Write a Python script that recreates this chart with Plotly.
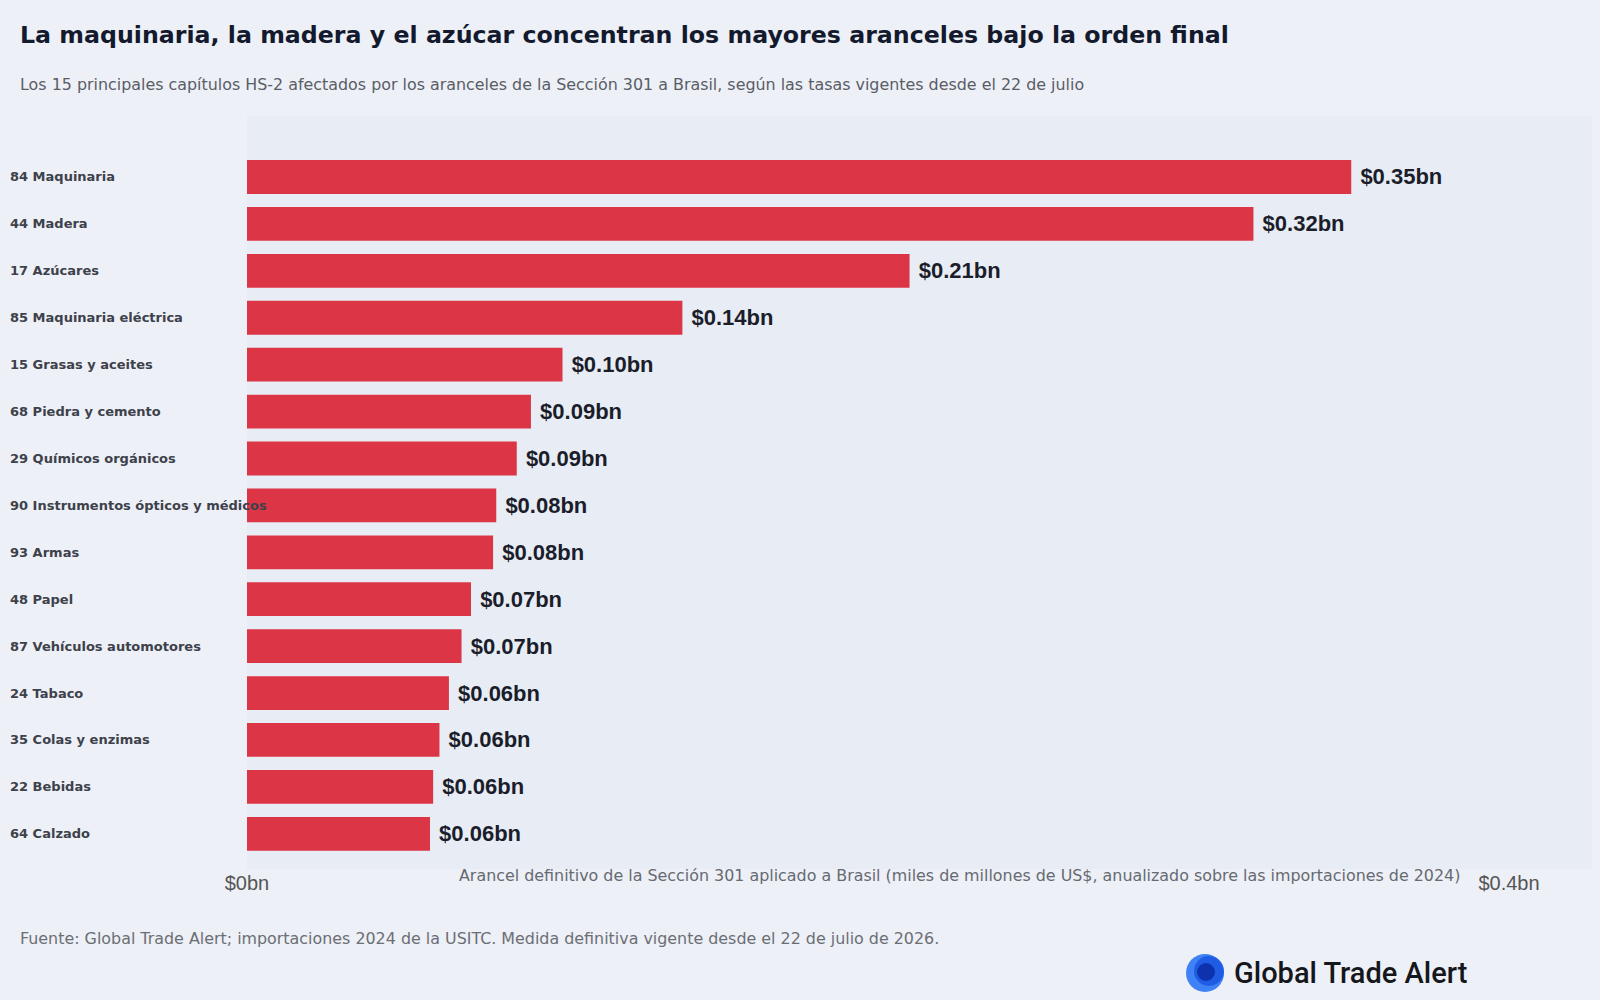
import plotly.graph_objects as go

# ---- data ----
categories = [
    "84 Maquinaria", "44 Madera", "17 Azúcares", "85 Maquinaria eléctrica",
    "15 Grasas y aceites", "68 Piedra y cemento", "29 Químicos orgánicos",
    "90 Instrumentos ópticos y médicos", "93 Armas", "48 Papel",
    "87 Vehículos automotores", "24 Tabaco", "35 Colas y enzimas",
    "22 Bebidas", "64 Calzado",
]
values = [0.350, 0.319, 0.210, 0.138, 0.100, 0.090, 0.0855, 0.079,
          0.078, 0.071, 0.068, 0.064, 0.061, 0.059, 0.058]
tick_vals = [0.0, 0.4]
tick_text = ["$0bn", "$0.4bn"]

title = "La maquinaria, la madera y el azúcar concentran los mayores aranceles bajo la orden final"
subtitle = ("Los 15 principales capítulos HS-2 afectados por los aranceles de la Sección 301 a Brasil, "
            "según las tasas vigentes desde el 22 de julio")
x_title = ("Arancel definitivo de la Sección 301 aplicado a Brasil (miles de millones de US$, "
           "anualizado sobre las importaciones de 2024)")
source = ("Fuente: Global Trade Alert; importaciones 2024 de la USITC. "
          "Medida definitiva vigente desde el 22 de julio de 2026.")

# ---- geometry ----
W, H = 1600, 1000
ML, MR, MT, MB = 247, 8, 116, 131
PW, PH = W - ML - MR, H - MT - MB
PX_PER_UNIT = 3155


def px(x):
    return (x - ML) / PW


def py(y):
    return (H - MB - y) / PH


fig = go.Figure()
fig.add_trace(go.Bar(
    x=values, y=categories, orientation="h",
    marker=dict(color="#dc3545", line=dict(width=0)),
    width=0.72,
    texttemplate=" <b>$%{x:.2f}bn</b>", textposition="outside",
    textfont=dict(family="Liberation Sans, Arial, sans-serif", size=22, color="#1b1d2b"),
    cliponaxis=False, hoverinfo="skip",
))

annotations = []
# category labels (left aligned)
for c in categories:
    annotations.append(dict(
        x=px(8), xref="paper", y=c, yref="y", text="<b>%s</b>" % c,
        showarrow=False, xanchor="left", yanchor="middle",
        font=dict(family="DejaVu Sans", size=13, color="#3d414b"),
    ))

annotations += [
    dict(x=px(18), y=py(35), xref="paper", yref="paper", text="<b>%s</b>" % title,
         showarrow=False, xanchor="left", yanchor="middle",
         font=dict(family="DejaVu Sans", size=23.7, color="#141a2e")),
    dict(x=px(18), y=py(84), xref="paper", yref="paper", text=subtitle,
         showarrow=False, xanchor="left", yanchor="middle",
         font=dict(family="DejaVu Sans", size=15.9, color="#5a5d66")),
    dict(x=px(1462), y=py(875), xref="paper", yref="paper", text=x_title,
         showarrow=False, xanchor="right", yanchor="middle",
         font=dict(family="DejaVu Sans", size=15.9, color="#666a72")),
    dict(x=px(18), y=py(939), xref="paper", yref="paper", text=source,
         showarrow=False, xanchor="left", yanchor="middle",
         font=dict(family="DejaVu Sans", size=15.9, color="#6b6e75")),
    dict(x=px(1232), y=py(973), xref="paper", yref="paper", text="Global Trade Alert",
         showarrow=False, xanchor="left", yanchor="middle",
         font=dict(family="Roboto", size=29, color="#15171c", weight=500)),
]

shapes = []
# logo mark: overlapping blue discs
for cx, cy, r, col in [(1205, 973, 19, "rgba(30,110,245,0.85)"),
                       (1209, 971, 15, "rgba(20,80,220,0.75)"),
                       (1206, 972, 9, "rgba(10,40,160,0.8)")]:
    shapes.append(dict(type="circle", xref="paper", yref="paper",
                       x0=px(cx - r), x1=px(cx + r), y0=py(cy + r), y1=py(cy - r),
                       fillcolor=col, line=dict(width=0), layer="above"))

fig.update_layout(
    width=W, height=H,
    margin=dict(l=ML, r=MR, t=MT, b=MB),
    paper_bgcolor="#edf0f6", plot_bgcolor="#e8edf5",
    showlegend=False, bargap=0.28,
    annotations=annotations, shapes=shapes,
    xaxis=dict(range=[0, PW / PX_PER_UNIT], tickvals=tick_vals, ticktext=tick_text,
               showgrid=False, zeroline=False, showline=False, ticks="",
               tickfont=dict(family="Liberation Sans, Arial, sans-serif", size=20, color="#555"),
               fixedrange=True),
    yaxis=dict(categoryorder="array", categoryarray=categories,
               range=[14.75, -1.3], showticklabels=False, showgrid=False,
               zeroline=False, ticks="", fixedrange=True),
    font=dict(family="DejaVu Sans"),
)

fig.write_html("out.html", config={"displayModeBar": False})
